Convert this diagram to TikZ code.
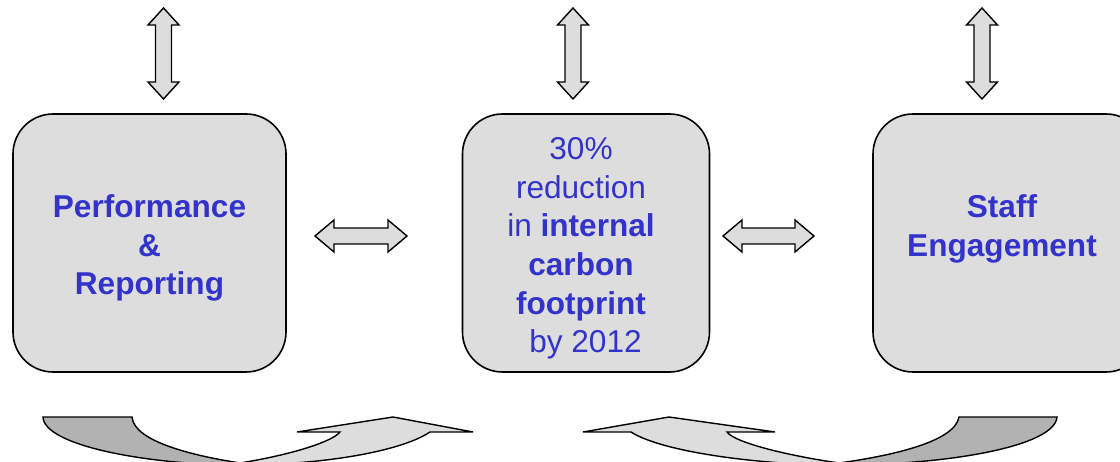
\documentclass[tikz,border=0pt]{standalone}
\usepackage{fontspec}
\setmainfont{Liberation Sans}
\definecolor{txtblue}{RGB}{51,51,204}
\definecolor{boxgray}{RGB}{221,221,221}
\definecolor{darkgray2}{RGB}{178,178,178}
\tikzset{
  boxshape/.style={draw=black, line width=1.6pt, fill=boxgray, rounded corners=40pt,
    minimum width=#1, minimum height=258pt, inner sep=0pt, outer sep=0pt},
  boxshape/.default=273pt,
  boxtext/.style={text=txtblue, align=center, inner sep=0pt,
    font=\fontsize{31.6}{38.6}\selectfont},
  arrowshape/.style={draw=black, line width=1.4pt, fill=boxgray, line join=miter},
  curveout/.style={draw=black, line width=1.4pt, line join=miter},
}
\newcommand\vdarrow[3]{% x, ytop, ybottom
  \draw[arrowshape] (#1,#2) -- (#1+15.5,#2+17) -- (#1+8,#2+17) -- (#1+8,#3-17)
    -- (#1+15.5,#3-17) -- (#1,#3) -- (#1-15.5,#3-17) -- (#1-8,#3-17)
    -- (#1-8,#2+17) -- (#1-15.5,#2+17) -- cycle;}
\newcommand\hdarrow[3]{% y, xleft, xright
  \draw[arrowshape] (#2,#1) -- (#2+19,#1-16) -- (#2+19,#1-8) -- (#3-19,#1-8)
    -- (#3-19,#1-16) -- (#3,#1) -- (#3-19,#1+16) -- (#3-19,#1+8)
    -- (#2+19,#1+8) -- (#2+19,#1+16) -- cycle;}
\begin{document}
\begin{tikzpicture}[x=1pt,y=-1pt]
\clip (0,0) rectangle (1120,462);
\fill[white] (0,0) rectangle (1120,462);
% boxes
\node[boxshape] (perf) at (149.5,243) {};
\node[boxshape=247pt] (goal) at (586,243) {};
\node[boxshape] (staff) at (1009.5,243) {};
\node[boxtext, font=\bfseries\fontsize{31.6}{38.6}\selectfont] (perft) at (149.5,248)
  {Performance\\\&\\Reporting};
\node[boxtext] (goalt) at (581,248.5)
  {30\%\\reduction\\in \textbf{internal}\\\textbf{carbon}\\\textbf{footprint}\\\hspace*{9pt}by 2012};
\node[boxtext, font=\bfseries\fontsize{31.6}{38.6}\selectfont] (stafft) at (1002,229)
  {Staff\\Engagement};
% vertical arrows
\vdarrow{163.5}{8}{99}
\vdarrow{573}{8}{99}
\vdarrow{982}{8}{99}
% horizontal arrows
\hdarrow{236}{315}{407}
\hdarrow{236}{723}{814}
% bottom left curved arrow
\def\leftarr{(43,417) -- (132,417) .. controls (134,442) and (195,456) .. (240,463)
  .. controls (290,455) and (332,442) .. (340,432) -- (297,432) -- (393,417)
  -- (473,432) -- (430,432) .. controls (400,452) and (320,465) .. (240,465)
  .. controls (150,465) and (44,446) .. (43,417) -- cycle}
\begin{scope}
  \clip \leftarr;
  \fill[darkgray2] (0,400) rectangle (236,470);
  \shade[left color=darkgray2, right color=boxgray] (236,400) rectangle (250,470);
  \fill[boxgray] (250,400) rectangle (500,470);
\end{scope}
\draw[curveout] \leftarr;
% bottom right curved arrow
\def\rightarr{(1057,417) -- (959,417) .. controls (955,442) and (890,456) .. (839,463)
  .. controls (790,456) and (735,443) .. (727,432) -- (775,432) -- (669,417)
  -- (583,432) -- (631,432) .. controls (662,452) and (760,465) .. (839,465)
  .. controls (950,465) and (1055,446) .. (1057,417) -- cycle}
\begin{scope}
  \clip \rightarr;
  \fill[boxgray] (560,400) rectangle (830,470);
  \shade[left color=boxgray, right color=darkgray2] (830,400) rectangle (846,470);
  \fill[darkgray2] (846,400) rectangle (1100,470);
\end{scope}
\draw[curveout] \rightarr;
\end{tikzpicture}
\end{document}
